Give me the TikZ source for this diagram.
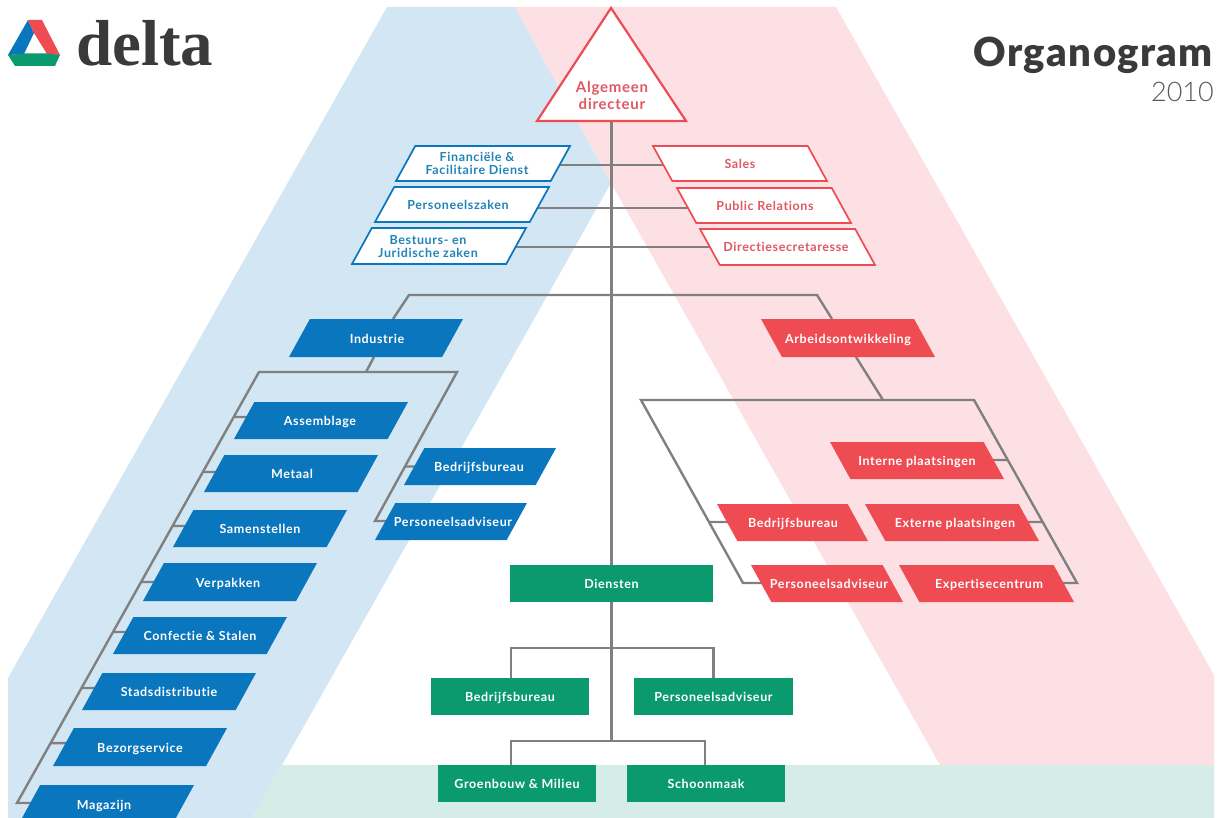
\documentclass[tikz,border=0pt]{standalone}
\usepackage{fontspec}
\usetikzlibrary{backgrounds,calc}
\setmainfont{Lato}
\newfontfamily\boxfont[LetterSpace=5,BoldFont=* Bold,Ligatures=NoCommon]{Lato}
\newfontfamily\titlefont[BoldFont=* Black,LetterSpace=3.5]{Lato}
\newfontfamily\yearfont{Lato Light}
\newfontfamily\logofont{Liberation Serif}
\definecolor{dblue}{HTML}{0A76BD}
\definecolor{dred}{HTML}{EE4B53}
\definecolor{dgreen}{HTML}{0A9A6E}
\definecolor{lblue}{HTML}{D3E6F3}
\definecolor{lred}{HTML}{FDE0E4}
\definecolor{lgreen}{HTML}{D5ECE7}
\definecolor{dgrey}{HTML}{808080}
\definecolor{ink}{HTML}{3A3A3A}
\definecolor{tblue}{HTML}{2283B8}
\definecolor{tred}{HTML}{DF5862}
\tikzset{
  boxtext/.style={rectangle,inner sep=0pt,outer sep=0pt,align=center,
     font=\boxfont\bfseries\fontsize{12.5}{14}\selectfont},
  bluebox/.style={fill=dblue},
  redbox/.style={fill=dred},
  blueline/.style={draw=dblue,line width=1.7pt,fill=white,line join=miter},
  redline/.style={draw=dred,line width=1.7pt,fill=white,line join=miter},
  greenbox/.style={boxtext,fill=dgreen,text=white},
  conn/.style={draw=dgrey,line width=2.4pt,line join=miter},
}
% args: style, text colour, name, xl, xr, yt, yb, dx, text
\newcommand{\fwdbox}[9]{%
  \path[#1] (#4,#7) -- ({#4+(#7-#6)*0.55},#6) -- (#5,#6) -- ({#5-(#7-#6)*0.55},#7) -- cycle;
  \node[boxtext,text=#2,minimum width={(#5-#4-(#7-#6)*0.55)*1pt},minimum height={(#7-#6)*1pt}] (#3)
    at ({(#4+#5)/2},{(#6+#7)/2}) {\raisebox{-5pt}[0pt][0pt]{\makebox[0pt]{\kern #8pt #9}}};}
\newcommand{\bwdbox}[9]{%
  \path[#1] (#4,#6) -- ({#5-(#7-#6)*0.55},#6) -- (#5,#7) -- ({#4+(#7-#6)*0.55},#7) -- cycle;
  \node[boxtext,text=#2,minimum width={(#5-#4-(#7-#6)*0.55)*1pt},minimum height={(#7-#6)*1pt}] (#3)
    at ({(#4+#5)/2},{(#6+#7)/2}) {\raisebox{-5pt}[0pt][0pt]{\makebox[0pt]{\kern #8pt #9}}};}
\newcommand{\tick}[4]{% node, frame a, frame b, dy (up)
  \draw[conn] (intersection cs:first line={(#2)--(#3)},second line={([yshift=#4pt]#1.west)--([yshift=#4pt]#1.east)}) -- ([yshift=#4pt]#1.center);}
\newcommand{\gtext}[1]{\raisebox{-5pt}[0pt][0pt]{#1}}
\newcommand{\twolines}[2]{\begin{tabular}{@{}c@{}}#1\\[-1pt]#2\end{tabular}}
\begin{document}
\begin{tikzpicture}[x=1pt,y=-1pt]
\useasboundingbox (0,0) rectangle (1223,818);
% bands
\begin{pgfonlayer}{background}
\fill[lblue] (387,7) -- (515,7) -- (611,183) -- (252,818) -- (8,818) -- (8,678) -- cycle;
\fill[lred] (515,7) -- (836,7) -- (1214,675) -- (1214,765) -- (940,765) -- (611,183) -- cycle;
\fill[lgreen] (282,765) -- (1214,765) -- (1214,818) -- (252,818) -- cycle;
\end{pgfonlayer}
% logo
\fill[dblue] (28,20) -- (34,33) -- (24,54) -- (8,55) -- cycle;
\fill[dred] (28,20) -- (42,20) -- (60,55) -- (47,54) -- (34,33) -- cycle;
\fill[dgreen] (8,55) -- (24,53.5) -- (47,53.5) -- (60,55) -- (55,66) -- (15,66) -- cycle;
\node[anchor=base west,inner sep=0pt,text=ink,font=\logofont\bfseries\fontsize{65}{65}\selectfont] (logo) at (76,65.5) {delta};
\node[anchor=base east,inner sep=0pt,text=ink,font=\titlefont\bfseries\fontsize{40}{40}\selectfont] (title) at (1213,67) {Organogram};
\node[anchor=base east,inner sep=0pt,text=ink!85,font=\yearfont\fontsize{27}{27}\selectfont] (year) at (1214,102) {2010};
% triangle
\draw[draw=dred,line width=2.2pt,fill=white,line join=miter] (611,8) -- (686,121) -- (537,121) -- cycle;
\coordinate (dirb) at (611.5,121);
\node[align=center,text=tred,font=\boxfont\bfseries\fontsize{15}{17}\selectfont] (dir) at (612,95) {Algemeen\\directeur};
% staff
\fwdbox{blueline}{tblue}{fin}{396}{570}{146}{181}{-12}{\twolines{Financiële \&}{Facilitaire Dienst}}
\fwdbox{blueline}{tblue}{pz}{375}{549}{187}{222}{-8}{Personeelszaken}
\fwdbox{blueline}{tblue}{bj}{352}{526}{228}{264}{-22}{\twolines{Bestuurs- en}{Juridische zaken}}
\bwdbox{redline}{tred}{sales}{653}{827}{146}{181}{0}{Sales}
\bwdbox{redline}{tred}{pr}{677}{851}{188}{223}{2}{Public Relations}
\bwdbox{redline}{tred}{ds}{700}{875}{229}{265}{-3}{Directiesecretaresse}
% blue
\fwdbox{bluebox}{white}{ind}{289}{463}{319}{357}{2}{Industrie}
\fwdbox{bluebox}{white}{ass}{234}{408}{402}{439}{-2}{Assemblage}
\fwdbox{bluebox}{white}{met}{204}{378}{455}{492}{2}{Metaal}
\fwdbox{bluebox}{white}{sam}{173}{347}{510}{547}{0}{Samenstellen}
\fwdbox{bluebox}{white}{ver}{143}{317}{563}{601}{-4}{Verpakken}
\fwdbox{bluebox}{white}{con}{113}{287}{617}{654}{0}{Confectie \& Stalen}
\fwdbox{bluebox}{white}{sta}{82}{256}{673}{710}{0}{Stadsdistributie}
\fwdbox{bluebox}{white}{bez}{53}{227}{728}{766}{0}{Bezorgservice}
\fwdbox{bluebox}{white}{mag}{22}{194}{785}{818}{-8}{\raisebox{-3pt}{Magazijn}}
\fwdbox{bluebox}{white}{bbb}{404}{556}{448}{485}{-2}{Bedrijfsbureau}
\fwdbox{bluebox}{white}{bpa}{375}{527}{503}{540}{4}{Personeelsadviseur}
% red
\bwdbox{redbox}{white}{arb}{761}{935}{319}{357}{0}{Arbeidsontwikkeling}
\bwdbox{redbox}{white}{int}{830}{1004}{442}{479}{0}{Interne plaatsingen}
\bwdbox{redbox}{white}{rbb}{717}{868}{504}{541}{1}{Bedrijfsbureau}
\bwdbox{redbox}{white}{ext}{865}{1039}{504}{541}{6}{Externe plaatsingen}
\bwdbox{redbox}{white}{rpa}{751}{903}{565}{602}{4}{Personeelsadviseur}
\bwdbox{redbox}{white}{exp}{899}{1074}{565}{602}{5}{Expertisecentrum}
% green
\node[greenbox,minimum width=203pt,minimum height=37pt] (die) at (611.5,583.5) {\gtext{Diensten}};
\node[greenbox,minimum width=158pt,minimum height=37pt] (gbb) at (510,696.5) {\gtext{Bedrijfsbureau}};
\node[greenbox,minimum width=159pt,minimum height=37pt] (gpa) at (713.5,696.5) {\gtext{Personeelsadviseur}};
\node[greenbox,minimum width=158pt,minimum height=37pt] (gro) at (517,783.5) {\gtext{Groenbouw \& Milieu}};
\node[greenbox,minimum width=158pt,minimum height=37pt] (sch) at (706,783.5) {\gtext{Schoonmaak}};
% connector junctions
\coordinate (topl) at (409,295);
\coordinate (topr) at (817,295);
\coordinate (ibl) at (17,803);
\coordinate (itl) at (259,372);
\coordinate (itr) at (457,372);
\coordinate (ibr) at (375,521);
\coordinate (itm) at (366,372);
\coordinate (rtl) at (641,400);
\coordinate (rtr) at (974,400);
\coordinate (rbl) at (743,583);
\coordinate (rbr) at (1077,583);
\coordinate (rtm) at (883,400);
\coordinate (j1) at (611.5,648);
\coordinate (j2) at (611.5,741);
\begin{pgfonlayer}{background}
% trunk
\draw[conn] (dirb) -- (die.north);
\draw[conn] (die.south) -- (j2);
\draw[conn] ([xshift=1pt]gbb.north) |- (j1) -| (gpa.north);
\draw[conn] ([xshift=-6pt]gro.north) |- (j2) -| ([xshift=-1pt]sch.north);
% staff lines
\draw[conn] ([yshift=-1.5pt]fin.center) -- ([yshift=-1.5pt]sales.center);
\draw[conn] ([yshift=-3.5pt]pz.center) -- ([yshift=-2.5pt]pr.center);
\draw[conn] ([yshift=-1pt]bj.center) -- (ds.center);
% top bar
\draw[conn] ([xshift=17pt]ind.north) -- (topl) -- (topr) -- ([xshift=-16pt]arb.north);
\draw[conn] ([xshift=-2pt]ind.south) -- (itm);
\draw[conn] ([xshift=8pt]arb.south) -- (rtm);
% blue frame
\draw[conn] ([yshift=-1.5pt]mag.center) -- (ibl) -- (itl) -- (itr) -- (ibr) -- ([yshift=0.5pt]bpa.center);
\tick{ass}{itl}{ibl}{3.5}
\tick{met}{itl}{ibl}{1.5}
\tick{sam}{itl}{ibl}{2.5}
\tick{ver}{itl}{ibl}{0}
\tick{con}{itl}{ibl}{3.5}
\tick{sta}{itl}{ibl}{3.5}
\tick{bez}{itl}{ibl}{4}
\tick{bbb}{itr}{ibr}{0}
% red frame
\draw[conn] ([yshift=0.5pt]rpa.center) -- (rbl) -- (rtl) -- (rtr) -- (rbr) -- ([yshift=0.5pt]exp.center);
\tick{int}{rtr}{rbr}{0.5}
\tick{rbb}{rtl}{rbl}{0.5}
\tick{ext}{rtr}{rbr}{0.5}
\end{pgfonlayer}
\end{tikzpicture}
\end{document}
